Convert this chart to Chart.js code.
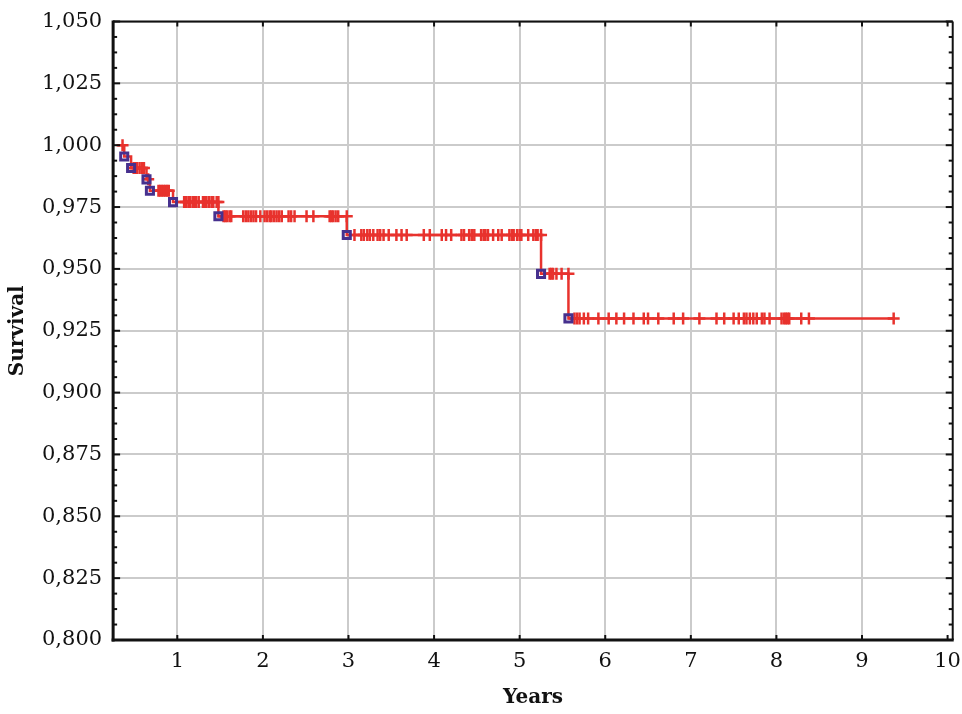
<!DOCTYPE html>
<html>
<head>
<meta charset="utf-8">
<script src="https://cdn.jsdelivr.net/npm/chart.js@4"></script>
<style>
    html, body { margin: 0; padding: 0; background: #fff; }
    #wrap { width: 962px; height: 714px; position: relative; }
</style>
</head>
<body>
<div id="wrap"><canvas id="kmChart"></canvas></div>
<script>
// --- Kaplan-Meier data ---
const startTime = 0.30;
const eventTimes = [0.38, 0.46, 0.64, 0.68, 0.95, 1.48, 2.98, 5.25, 5.57];
const survivalLevels = [1.000, 0.9954, 0.9908, 0.9862, 0.9816, 0.977, 0.9713, 0.9637, 0.948, 0.930];
// censored observations, grouped by the level they sit on
const censoredTimes = [
    [0.36],
    [],
    [0.49, 0.51, 0.53, 0.56, 0.59, 0.61],
    [0.66],
    [0.78, 0.80, 0.82, 0.84, 0.86, 0.88, 0.90],
    [1.08, 1.10, 1.13, 1.15, 1.18, 1.20, 1.22, 1.25, 1.30, 1.32, 1.34, 1.37, 1.40, 1.42, 1.46, 1.48],
    [1.54, 1.56, 1.58, 1.61, 1.63, 1.77, 1.80, 1.83, 1.86, 1.89, 1.92, 1.97, 2.02, 2.05, 2.08, 2.10, 2.13, 2.16, 2.19, 2.22,
     2.30, 2.33, 2.37, 2.51, 2.59, 2.78, 2.80, 2.82, 2.85, 2.88, 2.98],
    [3.07, 3.15, 3.18, 3.22, 3.25, 3.29, 3.34, 3.37, 3.41, 3.47, 3.56, 3.62, 3.68, 3.88, 3.95, 4.09, 4.14, 4.20, 4.32, 4.35,
     4.41, 4.44, 4.47, 4.55, 4.58, 4.60, 4.63, 4.69, 4.75, 4.79, 4.88, 4.91, 4.93, 4.97, 5.00, 5.02, 5.10, 5.16, 5.19, 5.21, 5.25],
    [5.35, 5.37, 5.39, 5.43, 5.49, 5.57],
    [5.64, 5.67, 5.70, 5.75, 5.80, 5.92, 6.04, 6.13, 6.22, 6.33, 6.45, 6.50, 6.62, 6.80, 6.91, 7.10, 7.30, 7.39, 7.50,
     7.56, 7.62, 7.65, 7.69, 7.73, 7.77, 7.83, 7.86, 7.92, 8.06, 8.09, 8.11, 8.13, 8.15, 8.29, 8.38, 9.37]
];

const xTickValues = [1, 2, 3, 4, 5, 6, 7, 8, 9, 10];
const xTickLabels = ['1', '2', '3', '4', '5', '6', '7', '8', '9', '10'];
const yTickValues = [0.800, 0.825, 0.850, 0.875, 0.900, 0.925, 0.950, 0.975, 1.000, 1.025, 1.050];
const yTickLabels = ['0,800', '0,825', '0,850', '0,875', '0,900', '0,925', '0,950', '0,975', '1,000', '1,025', '1,050'];

const RED = '#e8322d';
const PURPLE = '#46308e';
const INK = '#111';

// step path of the survival curve
const curve = [{ x: startTime, y: survivalLevels[0] }];
eventTimes.forEach((t, i) => {
    curve.push({ x: t, y: survivalLevels[i] });
    curve.push({ x: t, y: survivalLevels[i + 1] });
});
const lastGroup = censoredTimes[censoredTimes.length - 1];
curve.push({ x: lastGroup[lastGroup.length - 1], y: survivalLevels[survivalLevels.length - 1] });

const events = eventTimes.map((t, i) => ({ x: t, y: survivalLevels[i + 1] }));
const censored = [];
censoredTimes.forEach((group, i) => {
    group.forEach(t => censored.push({ x: t, y: survivalLevels[i] }));
});

// frame around the plot plus inward tick marks
const frameTicks = {
    id: 'frameTicks',
    afterDraw(chart) {
        const { ctx, chartArea: a, scales: { x, y } } = chart;
        const seg = (x1, y1, x2, y2) => {
            ctx.beginPath();
            ctx.moveTo(x1, y1);
            ctx.lineTo(x2, y2);
            ctx.stroke();
        };
        ctx.save();
        ctx.strokeStyle = INK;
        ctx.lineWidth = 2;
        const step = yTickValues[1] - yTickValues[0];
        yTickValues.forEach((v, i) => {
            const py = y.getPixelForValue(v);
            seg(a.left, py, a.left + 7, py);
            seg(a.right, py, a.right - 7, py);
            if (i < yTickValues.length - 1) {
                for (let k = 1; k < 4; k++) {
                    const pm = y.getPixelForValue(v + step * k / 4);
                    seg(a.left, pm, a.left + 4, pm);
                    seg(a.right, pm, a.right - 4, pm);
                }
            }
        });
        xTickValues.forEach(v => {
            const px = x.getPixelForValue(v);
            seg(px, a.bottom, px, a.bottom - 5);
            seg(px, a.top, px, a.top + 5);
        });
        ctx.lineWidth = 2;
        seg(a.left, a.top, a.right, a.top);
        seg(a.right, a.top, a.right, a.bottom);
        ctx.lineWidth = 3;
        seg(a.left, a.top - 1, a.left, a.bottom + 1.5);
        seg(a.left - 1.5, a.bottom, a.right + 1, a.bottom);
        ctx.restore();
    }
};

const titleFont = { family: 'DejaVu Serif', size: 20, weight: 'bold' };

new Chart(document.getElementById('kmChart'), {
    type: 'line',
    data: {
        datasets: [
            {
                label: 'Complete',
                data: events,
                showLine: false,
                pointStyle: 'rect',
                pointRadius: 5,
                borderColor: PURPLE,
                backgroundColor: 'rgba(0,0,0,0)',
                borderWidth: 3
            },
            {
                label: 'Survival',
                data: curve,
                borderColor: RED,
                borderWidth: 2.5,
                pointRadius: 0,
                tension: 0,
                fill: false
            },
            {
                label: 'Censored',
                data: censored,
                showLine: false,
                pointStyle: 'cross',
                pointRadius: 6,
                borderColor: RED,
                backgroundColor: RED,
                borderWidth: 2.5
            }
        ]
    },
    options: {
        responsive: true,
        maintainAspectRatio: false,
        animation: false,
        layout: { padding: { left: 0, right: 2, top: 20, bottom: 4 } },
        plugins: {
            legend: { display: false },
            tooltip: { enabled: false }
        },
        scales: {
            x: {
                type: 'linear',
                min: 0.25,
                max: 10.06,
                afterBuildTicks: scale => { scale.ticks = xTickValues.map(v => ({ value: v })); },
                grid: {
                    color: ctx => (ctx.tick && ctx.tick.value === 10) ? 'rgba(0,0,0,0)' : '#cbcbcb',
                    lineWidth: 2,
                    drawTicks: false
                },
                border: { display: false },
                ticks: {
                    autoSkip: false,
                    maxRotation: 0,
                    padding: 1,
                    color: INK,
                    font: { family: 'DejaVu Serif', size: 21, lineHeight: 2.0 },
                    callback: (v, i) => xTickLabels[i]
                },
                title: {
                    display: true,
                    text: 'Years',
                    color: INK,
                    font: titleFont,
                    padding: { top: 2, bottom: 0 }
                }
            },
            y: {
                min: 0.8,
                max: 1.05,
                afterBuildTicks: scale => { scale.ticks = yTickValues.map(v => ({ value: v })); },
                grid: {
                    color: '#cbcbcb',
                    lineWidth: 2,
                    drawTicks: false
                },
                border: { display: false },
                ticks: {
                    autoSkip: false,
                    padding: 11,
                    color: INK,
                    font: { family: 'DejaVu Serif', size: 21, lineHeight: 1.0 },
                    callback: (v, i) => yTickLabels[i]
                },
                title: {
                    display: true,
                    text: 'Survival',
                    color: INK,
                    font: titleFont,
                    padding: { top: 6, bottom: 1 }
                }
            }
        }
    },
    plugins: [frameTicks]
});
</script>
</body>
</html>
